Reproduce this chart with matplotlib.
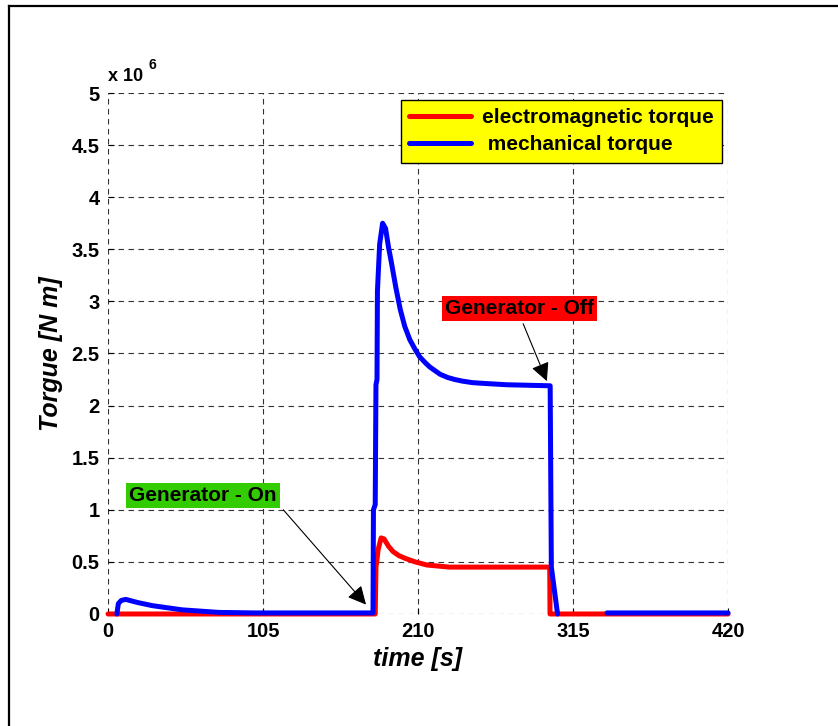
import numpy as np
import matplotlib.pyplot as plt
from matplotlib.lines import Line2D

plt.rcParams['font.family'] = ['Liberation Sans', 'DejaVu Sans']
plt.rcParams['font.weight'] = 'bold'

# mechanical torque (x 10^6 N m); nan = no visible trace
t_mech = [6, 7, 9, 12, 20, 30, 40, 50, 60, 75, 100, 150, 179.5, 179.8, 181, 181.5,
          182.2, 182.5, 184, 186, 188, 190, 192, 195, 198, 201, 204.5, 208, 211,
          215, 218, 222, 225, 230, 235, 240, 247, 258, 270, 285, 299.5, 300.3, 304.5,
          305, 337, 338, 420]
T_mech = [0, 0.10, 0.13, 0.14, 0.11, 0.08, 0.06, 0.04, 0.03, 0.015, 0.01, 0.01, 0.01,
          1.0, 1.05, 2.2, 2.25, 3.1, 3.55, 3.75, 3.7, 3.52, 3.37, 3.13, 2.92, 2.76,
          2.63, 2.54, 2.47, 2.41, 2.37, 2.33, 2.30, 2.27, 2.25, 2.235, 2.22, 2.21,
          2.20, 2.195, 2.19, 0.45, 0.0, np.nan, np.nan, 0.01, 0.01]

# electromagnetic torque (x 10^6 N m)
t_em = [0, 181, 181.5, 182, 183, 185, 187, 190, 193, 197, 202, 208, 216, 231, 299.2, 299.4, 420]
T_em = [0, 0, 0.45, 0.50, 0.62, 0.73, 0.72, 0.65, 0.60, 0.56, 0.53, 0.50, 0.47, 0.45, 0.45, 0, 0]

xticks = [0, 105, 210, 315, 420]
yticks = [0, 0.5, 1, 1.5, 2, 2.5, 3, 3.5, 4, 4.5, 5]
ytick_labels = ['0', '0.5', '1', '1.5', '2', '2.5', '3', '3.5', '4', '4.5', '5']

fig = plt.figure(figsize=(8.38, 7.26), dpi=100)
ax = fig.add_axes([0.1289, 0.1543, 0.7399, 0.7176])

ax.plot(t_em, T_em, color='#ff0000', lw=3.6, label='electromagnetic torque',
        clip_on=False, solid_joinstyle='round', solid_capstyle='round')
ax.plot(t_mech, T_mech, color='#0000ff', lw=3.6, label=' mechanical torque',
        clip_on=False, solid_joinstyle='round', solid_capstyle='round')

ax.set_xlim(0, 420)
ax.set_ylim(0, 5)
ax.set_xticks(xticks)
ax.set_xticklabels([str(v) for v in xticks])
ax.set_yticks(yticks)
ax.set_yticklabels(ytick_labels)
ax.tick_params(direction='in', length=4, labelsize=14.5, width=0.8, pad=6)
for lab in ax.get_xticklabels() + ax.get_yticklabels():
    lab.set_fontweight('bold')

for s in ax.spines.values():
    s.set_visible(False)
ax.grid(True, color='#333333', linestyle=(0, (5, 4)), lw=0.8)

ax.set_xlabel('time [s]', fontsize=18, fontweight='bold', style='italic', labelpad=4)
ax.set_ylabel('Torgue [N m]', fontsize=18, fontweight='bold', style='italic', labelpad=6)

# exponent label
ax.text(0.0, 1.015, 'x 10', transform=ax.transAxes, fontsize=13, fontweight='bold',
        ha='left', va='bottom')
ax.text(0.066, 1.04, '6', transform=ax.transAxes, fontsize=10, fontweight='bold',
        ha='left', va='bottom')

leg = ax.legend(loc='upper right', bbox_to_anchor=(0.99, 0.987), borderaxespad=0,
                fontsize=15, handlelength=3.0, frameon=True, fancybox=False,
                borderpad=0.4, labelspacing=0.4, handletextpad=0.5)
leg.get_frame().set_facecolor('#ffff00')
leg.get_frame().set_edgecolor('black')
leg.get_frame().set_linewidth(1.0)
leg.get_frame().set_alpha(1)
for txt in leg.get_texts():
    txt.set_fontweight('bold')

# annotations
ax.text(64.3, 1.14, 'Generator - On', fontsize=15, fontweight='bold', ha='center',
        va='center', bbox=dict(boxstyle='square,pad=0.15', fc='#33cc00', ec='none'))
ax.annotate('', xy=(176, 0.07), xytext=(117.5, 1.02),
            arrowprops=dict(arrowstyle='-|>', color='black', lw=0.8, mutation_scale=28))

ax.text(278.5, 2.93, 'Generator - Off', fontsize=15, fontweight='bold', ha='center',
        va='center', bbox=dict(boxstyle='square,pad=0.15', fc='#ff0000', ec='none'))
ax.annotate('', xy=(298, 2.21), xytext=(280.5, 2.81),
            arrowprops=dict(arrowstyle='-|>', color='black', lw=0.8, mutation_scale=28))

# outer frame lines
fig.add_artist(Line2D([9 / 838, 1], [1 - 6 / 726, 1 - 6 / 726], color='black', lw=1.6))
fig.add_artist(Line2D([9 / 838, 9 / 838], [0, 1 - 6 / 726], color='black', lw=1.6))

fig.savefig('out.png', dpi=100)
